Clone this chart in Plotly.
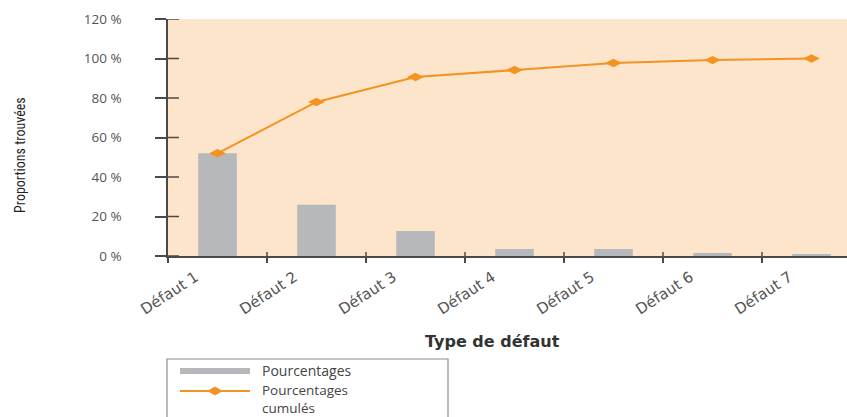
import plotly.graph_objects as go

categories = ["Défaut 1", "Défaut 2", "Défaut 3", "Défaut 4", "Défaut 5", "Défaut 6", "Défaut 7"]
pourcentages = [52, 26, 12.6, 3.6, 3.5, 1.5, 0.8]
cumules = [52, 78, 90.6, 94.2, 97.7, 99.2, 100]
y_ticks = [0, 20, 40, 60, 80, 100, 120]
y_labels = ["0 %", "20 %", "40 %", "60 %", "80 %", "100 %", "120 %"]

W, H = 847, 417
L, R, T, B = 168, 0, 19, 161
PW, PH = W - L - R, H - T - B

def px(x):
    return (x - L) / PW

def py(y):
    return (H - B - y) / PH

BG = "#FDE5CB"
BAR = "#B6B8BB"
ORANGE = "#F39322"
AXIS = "#4a4a4a"
TXT = "#555555"
FONT = "Open Sans, Lato, sans-serif"
WIDE = "DejaVu Sans, Verdana, sans-serif"

fig = go.Figure()
fig.add_trace(go.Bar(x=categories, y=pourcentages, marker=dict(color=BAR, line=dict(width=0)),
                     width=0.39, name="Pourcentages", showlegend=False))
fig.add_trace(go.Scatter(x=categories, y=cumules, mode="lines+markers", name="Pourcentages cumulés",
                         line=dict(color=ORANGE, width=2),
                         marker=dict(symbol="diamond-wide", size=12, color=ORANGE),
                         showlegend=False))

shapes = []
# inner parts of y ticks
for v in y_ticks:
    shapes.append(dict(type="line", xref="paper", yref="y", x0=0, x1=11 / PW, y0=v, y1=v,
                       line=dict(color=AXIS, width=1.5)))
# inner parts of x boundary ticks
for i in range(len(categories)):
    shapes.append(dict(type="line", xref="x", yref="paper", x0=i + 0.5, x1=i + 0.5, y0=0, y1=4 / PH,
                       line=dict(color=AXIS, width=1.5)))

# legend box (manual)
lx0, ly0, lx1, ly1 = 167, 359, 448, 430
shapes.append(dict(type="rect", xref="paper", yref="paper", x0=px(lx0), x1=px(lx1), y0=py(ly1), y1=py(ly0),
                   line=dict(color="#8c8c8c", width=1.2), fillcolor="rgba(0,0,0,0)", layer="above"))
shapes.append(dict(type="line", xref="paper", yref="paper", x0=px(180), x1=px(250), y0=py(371), y1=py(371),
                   line=dict(color=BAR, width=6)))
shapes.append(dict(type="line", xref="paper", yref="paper", x0=px(180), x1=px(250), y0=py(391), y1=py(391),
                   line=dict(color=ORANGE, width=2)))
cx, cy = 215, 391
shapes.append(dict(type="path", xref="paper", yref="paper",
                   path=f"M {px(cx-7)},{py(cy)} L {px(cx)},{py(cy-4)} L {px(cx+7)},{py(cy)} L {px(cx)},{py(cy+4)} Z",
                   fillcolor=ORANGE, line=dict(color=ORANGE, width=1)))

annotations = [
    dict(text="Pourcentages", xref="paper", yref="paper", x=px(261), y=py(370.5), xanchor="left", yanchor="middle",
         showarrow=False, borderpad=0, font=dict(family=FONT, size=14, color="#444")),
    dict(text="Pourcentages<br>cumulés", xref="paper", yref="paper", x=px(261), y=py(398.5), xanchor="left",
         yanchor="middle", align="left", showarrow=False, borderpad=0,
         font=dict(family=FONT, size=13.5, color="#444")),
    dict(text="Type de défaut", xref="paper", yref="paper", x=px(492), y=py(341), xanchor="center",
         yanchor="middle", showarrow=False, font=dict(family=WIDE, size=16, color="#333", weight="bold")),
    dict(text="Proportions trouvées", xref="paper", yref="paper", x=px(20), y=py(155), xanchor="center",
         yanchor="middle", textangle=-90, showarrow=False,
         font=dict(family="Liberation Sans Narrow, Arial Narrow, Roboto Condensed, sans-serif", size=14, color="#222")),
]

fig.update_layout(
    width=W, height=H,
    margin=dict(l=L, r=R, t=T, b=B, autoexpand=False),
    paper_bgcolor="white", plot_bgcolor=BG,
    xaxis=dict(type="category", range=[-0.5, (W - L) / 99 - 0.5], tickson="boundaries", ticks="outside",
               ticklen=5, tickwidth=1.5, tickcolor=AXIS, showline=True, linecolor=AXIS, linewidth=1.5,
               showgrid=False, tickangle=-33, ticklabelshift=-22, ticklabelstandoff=5,
               tickfont=dict(family=WIDE, size=15, color=TXT), zeroline=False),
    yaxis=dict(range=[0, 120], tickvals=y_ticks, ticktext=y_labels, ticks="outside", ticklen=11,
               tickwidth=1.5, tickcolor=AXIS, showline=True, linecolor=AXIS, linewidth=1.5, showgrid=False,
               zeroline=False, ticklabelstandoff=31, tickfont=dict(family=FONT, size=13.5, color=TXT)),
    shapes=shapes,
    annotations=annotations,
    showlegend=False,
)

fig.write_html("out.html")
